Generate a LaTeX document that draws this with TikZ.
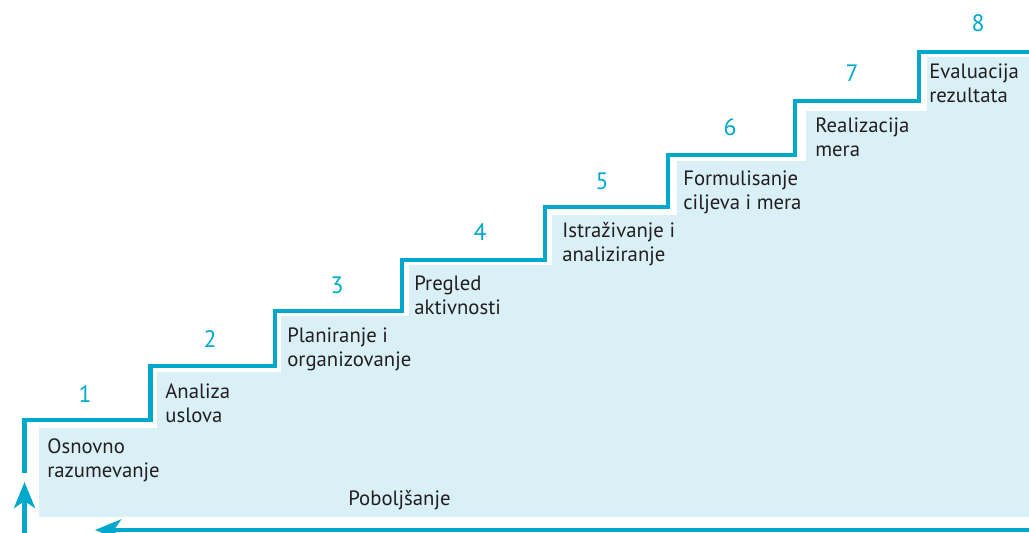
\documentclass[tikz,border=0pt]{standalone}
\usepackage{fontspec}
\setmainfont{PT Sans}
\usetikzlibrary{arrows.meta}

\definecolor{stepcyan}{RGB}{0,168,204}
\definecolor{stepfill}{RGB}{217,240,246}
\definecolor{steptext}{RGB}{35,31,32}

\tikzset{
  stairline/.style={draw=stepcyan, line width=2.6pt},
  steplabel/.style={anchor=base west, align=left, inner sep=0pt, text=steptext,
    font=\fontsize{11.8}{13.6}\selectfont},
  stepnum/.style={inner sep=0pt, text=stepcyan, font=\fontsize{13.5}{16}\selectfont},
  looparrow/.style={draw=stepcyan, line width=2.6pt,
    -{Stealth[length=5.2mm,width=4.2mm,inset=1.4mm]}}
}

\begin{document}
\begin{tikzpicture}[x=0.02cm, y=-0.02cm]
\useasboundingbox (0,0) rectangle (1029,532);

% Light fill under the stairs
\fill [stepfill] (39,517) -- (39,428) -| (157,372) -| (281,316) -| (409,265)
   -| (552,215) -| (677,161) -| (806,111) -| (927,57) -- (1032,57)
   -- (1032,517) -- cycle;

% Stair outline
\draw [stairline] (24.5,473) |- (150.5,420) |- (275,366) |- (402,311)
   |- (545,260) |- (668,207) |- (795,155) |- (919,101) |- (1035,52);

% Step 1 (label placed at baseline of its last line)
\node [stepnum] (n1) at (85,394) {1};
\node [steplabel] (s1) at (47,477) {Osnovno\\razumevanje};
% Step 2
\node [stepnum] (n2) at (210,339.5) {2};
\node [steplabel] (s2) at (165,422) {Analiza\\uslova};
% Step 3
\node [stepnum] (n3) at (337,285.5) {3};
\node [steplabel] (s3) at (287,366) {Planiranje i\\organizovanje};
% Step 4
\node [stepnum] (n4) at (480,232) {4};
\node [steplabel] (s4) at (414,314) {Pregled\\aktivnosti};
% Step 5
\node [stepnum] (n5) at (602,181) {5};
\node [steplabel] (s5) at (562,261) {Istraživanje i\\analiziranje};
% Step 6
\node [stepnum] (n6) at (730,127.5) {6};
\node [steplabel] (s6) at (683,209) {Formulisanje\\ciljeva i mera};
% Step 7
\node [stepnum] (n7) at (852,73) {7};
\node [steplabel] (s7) at (815,156) {Realizacija\\mera};
% Step 8
\node [stepnum] (n8) at (978,23.5) {8};
\node [steplabel] (s8) at (929,102) {Evaluacija\\rezultata};

% Improvement loop
\node [steplabel] (improve) at (348,505) {Poboljšanje};
\coordinate (loopR) at (1035,530);
\coordinate (loopL) at (95,530);
\coordinate (upB) at (24.5,540);
\coordinate (upT) at (24.5,482);
\draw [looparrow] (loopR) -- (loopL);
\draw [looparrow] (upB) -- (upT);
\end{tikzpicture}
\end{document}
